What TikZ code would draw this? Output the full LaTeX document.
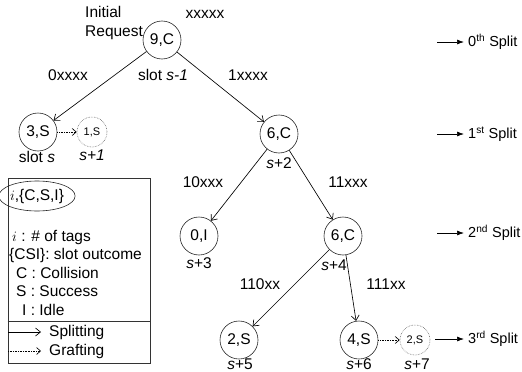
\documentclass[tikz,border=0pt]{standalone}
\usepackage{fontspec}
\setmainfont{Liberation Sans}
\usetikzlibrary{arrows.meta,shapes.geometric}
\begin{document}
\begin{tikzpicture}[x=1pt,y=-1pt,
  font=\fontsize{15.5}{18.5}\selectfont,
  tnode/.style={circle,draw=black!85,line width=0.6pt,minimum size=38pt,inner sep=0pt},
  gnode/.style={circle,draw=black!60,densely dotted,line width=0.6pt,minimum size=30pt,inner sep=0pt,font=\fontsize{11}{13}\selectfont},
  splitarr/.style={-{Straight Barb[length=5pt,width=8pt]},line width=0.65pt},
  graftarr/.style={densely dotted,-{Straight Barb[length=4pt,width=7pt]},line width=0.65pt},
  levarr/.style={-{Latex[length=7pt,width=5pt]},line width=0.7pt},
  lbl/.style={inner sep=0pt},
  levlbl/.style={inner sep=0pt,anchor=west,font=\fontsize{14.5}{17}\selectfont}
]
\useasboundingbox (0,0) rectangle (522,372);

% tree nodes
\node[tnode] (n9) at (162,40) {9,C};
\node[tnode] (n3) at (38,132) {3,S};
\node[gnode] (n1) at (92,132) {1,S};
\node[tnode] (n6a) at (279,134) {6,C};
\node[tnode] (n0) at (199,236) {0,I};
\node[tnode] (n6b) at (343,236) {6,C};
\node[tnode] (n2) at (239,340) {2,S};
\node[tnode] (n4) at (359,340) {4,S};
\node[gnode] (n2d) at (415,340) {2,S};

% connectors
\draw[splitarr] (n9) -- (n3);
\draw[splitarr] (n9) -- (n6a);
\draw[splitarr] (n6a) -- (n0);
\draw[splitarr] (n6a) -- (n6b);
\draw[splitarr] (n6b) -- (n2);
\draw[splitarr] (n6b) -- (n4);
\draw[graftarr] (n3) -- (n1);
\draw[graftarr] (n4) -- (n2d);

% labels
\node[lbl,anchor=west,align=left] (init) at (85,23) {Initial\\Request};
\node[lbl] (lx) at (205,14) {xxxxx};
\node[lbl] (l0) at (68,75) {0xxxx};
\node[lbl] (ls1) at (163,75) {slot \textit{s-1}};
\node[lbl] (l1) at (248,75) {1xxxx};
\node[lbl] (lss) at (37,157) {slot \textit{s}};
\node[lbl] (lsp1) at (92,155) {\textit{s+1}};
\node[lbl] (lsp2) at (279,163) {\textit{s}+2};
\node[lbl] (l10) at (203,182) {10xxx};
\node[lbl] (l11) at (348,182) {11xxx};
\node[lbl] (lsp3) at (199,263) {\textit{s}+3};
\node[lbl] (lsp4) at (334,265) {\textit{s}+4};
\node[lbl] (l110) at (260,284) {110xx};
\node[lbl] (l111) at (386,284) {111xx};
\node[lbl] (lsp5) at (240,364) {\textit{s}+5};
\node[lbl] (lsp6) at (359,364) {\textit{s}+6};
\node[lbl] (lsp7) at (417,364) {\textit{s}+7};

% split levels
\node[levlbl] (t0) at (468,42) {0\textsuperscript{th} Split};
\node[levlbl] (t1) at (468,134) {1\textsuperscript{st} Split};
\node[levlbl] (t2) at (468,233) {2\textsuperscript{nd} Split};
\node[levlbl] (t3) at (468,339) {3\textsuperscript{rd} Split};
\coordinate (a0) at (437,42);
\coordinate (a1) at (437,134);
\coordinate (a2) at (437,233);
\coordinate (a3) at (435,339);
\draw[levarr] (a0) -- ([xshift=-4pt]t0.west);
\draw[levarr] (a1) -- ([xshift=-4pt]t1.west);
\draw[levarr] (a2) -- ([xshift=-4pt]t2.west);
\draw[levarr] (a3) -- ([xshift=-4pt]t3.west);

% legend
\node[draw=black!80,line width=0.6pt,minimum width=142pt,minimum height=185pt,inner sep=0pt] (box) at (79,270.5) {};
\draw[black!80,line width=0.6pt] (box.west |- 0,321) coordinate (dl) -- (box.east |- 0,321) coordinate (dr);
\node[draw=black!85,line width=0.6pt,ellipse,minimum width=56pt,minimum height=30pt,inner sep=0pt] (ell) at (37,196) {$i$,\{C,S,I\}};
\node[lbl,anchor=west] (g1) at (12,237) {$i$ : \# of tags};
\node[lbl,anchor=west] (g2) at (9,255) {\{CSI\}: slot outcome};
\node[lbl,anchor=west] (g3) at (16,273) {C : Collision};
\node[lbl,anchor=west] (g4) at (16,291) {S : Success};
\node[lbl,anchor=west] (g5) at (22,310) {I : Idle};
\coordinate (sa) at (8,332);
\coordinate (ga) at (8,351);
\node[lbl,anchor=west] (g6) at (49,332) {Splitting};
\node[lbl,anchor=west] (g7) at (49,351) {Grafting};
\draw[splitarr] (sa) -- ([xshift=-8pt]g6.west);
\draw[graftarr] (ga) -- ([xshift=-8pt]g7.west);
\end{tikzpicture}
\end{document}
